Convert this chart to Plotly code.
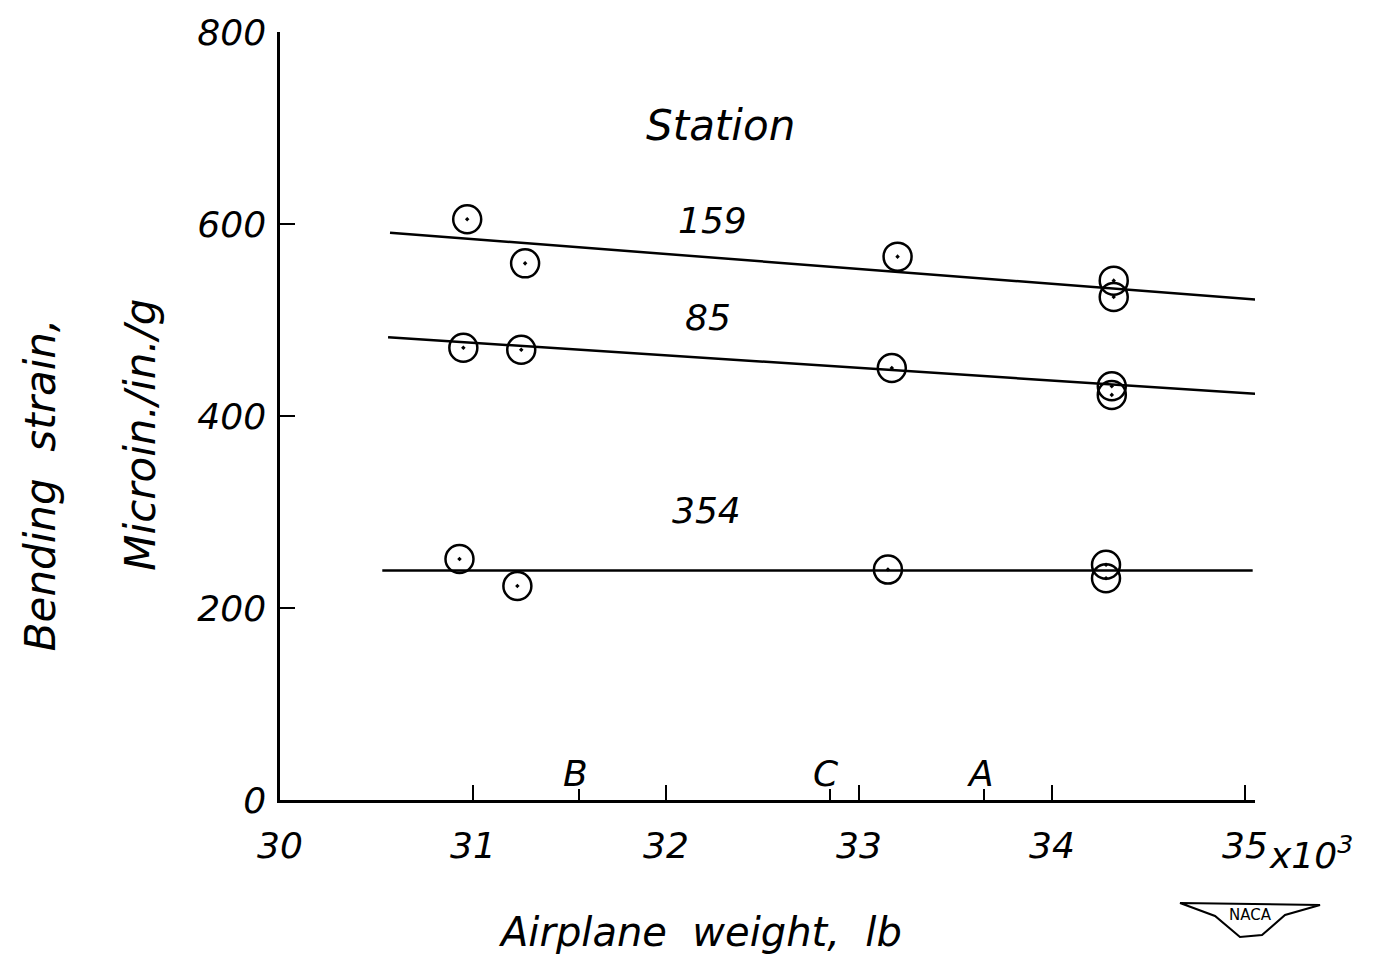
import plotly.graph_objects as go

# ---- data ----
w_159 = [30.97, 31.27, 33.20, 34.32, 34.32]
s_159 = [605, 559, 566, 541, 524]
w_85 = [30.95, 31.25, 33.17, 34.31, 34.31]
s_85 = [471, 469, 450, 431, 422]
w_354 = [30.93, 31.23, 33.15, 34.28, 34.28]
s_354 = [251, 223, 240, 245, 231]

fair_x_159 = [30.57, 35.07]
fair_y_159 = [591, 521]
fair_x_85 = [30.56, 35.07]
fair_y_85 = [482, 423]
fair_x_354 = [30.53, 35.04]
fair_y_354 = [239, 239]

x_ticks = [30, 31, 32, 33, 34, 35]
x_tick_text = ["30", "31", "32", "33", "34", "35"]
y_ticks = [0, 200, 400, 600, 800]
cond_x = [31.55, 32.85, 33.65]
cond_labels = ["B", "C", "A"]

station_names = ["159", "85", "354"]
station_label_x = [32.24, 32.22, 32.21]
station_label_y = [604, 503, 302]

FONT = "DejaVu Sans"
ink = "black"

fig = go.Figure()
for fx, fy in [(fair_x_159, fair_y_159), (fair_x_85, fair_y_85), (fair_x_354, fair_y_354)]:
    fig.add_trace(go.Scatter(x=fx, y=fy, mode="lines",
                             line=dict(color=ink, width=2.5), showlegend=False,
                             hoverinfo="skip"))
for wx, sy in [(w_159, s_159), (w_85, s_85), (w_354, s_354)]:
    fig.add_trace(go.Scatter(x=wx, y=sy, mode="markers",
                             marker=dict(symbol="circle-open-dot", size=28,
                                         color=ink, line=dict(color=ink, width=2.5)),
                             showlegend=False))

tick_font = dict(family=FONT, size=36, color=ink, style="italic", weight=200)
fig.update_xaxes(range=[30, 35.052], tickvals=x_ticks, ticktext=x_tick_text,
                 ticks="inside", ticklen=15, tickwidth=2, tickcolor=ink,
                 showline=True, linecolor=ink, linewidth=2.5, showgrid=False,
                 zeroline=False, tickfont=tick_font, ticklabelstandoff=12,
                 automargin=False,
                 minor=dict(tickvals=cond_x, ticks="inside", ticklen=11,
                            tickwidth=2, tickcolor=ink, showgrid=False))
fig.update_yaxes(range=[0, 800], tickvals=y_ticks, ticks="inside", ticklen=15,
                 tickwidth=2, tickcolor=ink, showline=True, linecolor=ink,
                 linewidth=2.5, showgrid=False, zeroline=False, tickfont=tick_font,
                 ticklabelstandoff=4, automargin=False)

ann_font = dict(family=FONT, size=36, color=ink, style="italic", weight=200)
annotations = []
for name, lx, ly in zip(station_names, station_label_x, station_label_y):
    annotations.append(dict(x=lx, y=ly, xref="x", yref="y", text=name,
                            showarrow=False, xanchor="center", yanchor="middle",
                            font=ann_font))
annotations.append(dict(x=32.28, y=703, xref="x", yref="y", text="Station",
                        showarrow=False, xanchor="center", yanchor="middle",
                        font=dict(ann_font, size=42)))
for cx, cl in zip(cond_x, cond_labels):
    annotations.append(dict(x=cx, y=0, xref="x", yref="y", text=cl, showarrow=False,
                            xanchor="center", yanchor="bottom", yshift=4, xshift=-4,
                            font=ann_font))
annotations.append(dict(x=35, y=0, xref="x", yref="y", text="x10<sup>3</sup>",
                        showarrow=False, xanchor="left", yanchor="top",
                        xshift=22, yshift=-28, font=dict(ann_font, size=36)))
annotations.append(dict(x=0.431, y=-0.172, xref="paper", yref="paper",
                        text="Airplane  weight,  lb", showarrow=False,
                        xanchor="center", yanchor="middle",
                        font=dict(ann_font, size=40)))
annotations.append(dict(x=-0.246, y=0.41, xref="paper", yref="paper",
                        text="Bending  strain,", showarrow=False, textangle=-90,
                        xanchor="center", yanchor="middle",
                        font=dict(ann_font, size=42)))
annotations.append(dict(x=-0.143, y=0.475, xref="paper", yref="paper",
                        text="Microin./in./g", showarrow=False, textangle=-90,
                        xanchor="center", yanchor="middle",
                        font=dict(ann_font, size=42)))

# NACA wing emblem (pixel coords relative to screen -> paper coords)
L, R, T, B = 280, 1255, 32, 800
def px(x):
    return (x - L) / (R - L)
def py(y):
    return (B - y) / (B - T)
wing = [(1180, 903), (1320, 905), (1285, 915), (1262, 935), (1240, 937), (1215, 916)]
path = "M " + " L ".join(f"{px(a):.4f},{py(b):.4f}" for a, b in wing) + " Z"
shapes = [dict(type="path", xref="paper", yref="paper", path=path,
               line=dict(color=ink, width=2), fillcolor="white")]
annotations.append(dict(x=px(1250), y=py(915), xref="paper", yref="paper",
                        text="NACA", showarrow=False, xanchor="center",
                        yanchor="middle",
                        font=dict(family=FONT, size=15, color=ink)))

# the page body adds an 8px offset, so the figure is sized to fit the window
fig.update_layout(width=1360, height=954, margin=dict(l=272, r=113, t=24, b=162),
                  plot_bgcolor="white", paper_bgcolor="white",
                  annotations=annotations, shapes=shapes)
fig.write_html("out.html")
